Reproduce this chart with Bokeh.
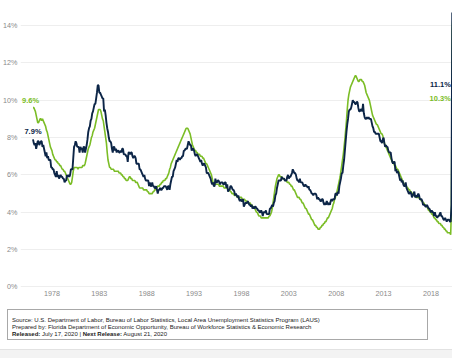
from bokeh.plotting import figure
from bokeh.models import Range1d, FixedTicker, Div, CustomJSTickFormatter, Label
from bokeh.layouts import column
from bokeh.embed import file_html
from bokeh.resources import INLINE

start_year = 1976

# United States, monthly unemployment rate (%), Jan 1976 - Jun 2020
us_rate = [
    7.9, 7.7, 7.6, 7.7, 7.4, 7.6, 7.8, 7.8, 7.6, 7.7, 7.8, 7.8,   # 1976
    7.5, 7.6, 7.4, 7.2, 7.0, 7.2, 6.9, 7.0, 6.8, 6.8, 6.8, 6.4,   # 1977
    6.4, 6.3, 6.3, 6.1, 6.0, 5.9, 6.2, 5.9, 6.0, 5.8, 5.9, 6.0,   # 1978
    5.9, 5.9, 5.8, 5.8, 5.6, 5.7, 5.7, 6.0, 5.9, 6.0, 5.9, 6.0,   # 1979
    6.3, 6.3, 6.3, 6.9, 7.5, 7.6, 7.8, 7.7, 7.5, 7.5, 7.5, 7.2,   # 1980
    7.5, 7.4, 7.4, 7.2, 7.5, 7.5, 7.2, 7.4, 7.6, 7.9, 8.3, 8.5,   # 1981
    8.6, 8.9, 9.0, 9.3, 9.4, 9.6, 9.8, 9.8, 10.1, 10.4, 10.8, 10.8,  # 1982
    10.4, 10.4, 10.3, 10.2, 10.1, 10.1, 9.4, 9.5, 9.2, 8.8, 8.5, 8.3,  # 1983
    8.0, 7.8, 7.8, 7.7, 7.4, 7.2, 7.5, 7.5, 7.3, 7.4, 7.2, 7.3,   # 1984
    7.3, 7.2, 7.2, 7.3, 7.2, 7.4, 7.4, 7.1, 7.1, 7.1, 7.0, 7.0,   # 1985
    6.7, 7.2, 7.2, 7.1, 7.2, 7.2, 7.0, 6.9, 7.0, 7.0, 6.9, 6.6,   # 1986
    6.6, 6.6, 6.6, 6.3, 6.3, 6.2, 6.1, 6.0, 5.9, 6.0, 5.8, 5.7,   # 1987
    5.7, 5.7, 5.7, 5.4, 5.6, 5.4, 5.4, 5.6, 5.4, 5.4, 5.3, 5.3,   # 1988
    5.4, 5.2, 5.0, 5.2, 5.2, 5.3, 5.2, 5.2, 5.3, 5.3, 5.4, 5.4,   # 1989
    5.4, 5.3, 5.2, 5.4, 5.4, 5.2, 5.5, 5.7, 5.9, 5.9, 6.2, 6.3,   # 1990
    6.4, 6.6, 6.8, 6.7, 6.9, 6.9, 6.8, 6.9, 6.9, 7.0, 7.0, 7.3,   # 1991
    7.3, 7.4, 7.4, 7.4, 7.6, 7.8, 7.7, 7.6, 7.6, 7.3, 7.4, 7.4,   # 1992
    7.3, 7.1, 7.0, 7.1, 7.1, 7.0, 6.9, 6.8, 6.7, 6.8, 6.6, 6.5,   # 1993
    6.6, 6.6, 6.5, 6.4, 6.1, 6.1, 6.1, 6.0, 5.9, 5.8, 5.6, 5.5,   # 1994
    5.6, 5.4, 5.4, 5.8, 5.6, 5.6, 5.7, 5.7, 5.6, 5.5, 5.6, 5.6,   # 1995
    5.6, 5.5, 5.5, 5.6, 5.6, 5.3, 5.5, 5.1, 5.2, 5.2, 5.4, 5.4,   # 1996
    5.3, 5.2, 5.2, 5.1, 4.9, 5.0, 4.9, 4.8, 4.9, 4.7, 4.6, 4.7,   # 1997
    4.6, 4.6, 4.7, 4.3, 4.4, 4.5, 4.5, 4.5, 4.6, 4.5, 4.4, 4.4,   # 1998
    4.3, 4.4, 4.2, 4.3, 4.2, 4.3, 4.3, 4.2, 4.2, 4.1, 4.1, 4.0,   # 1999
    4.0, 4.1, 4.0, 3.8, 4.0, 4.0, 4.0, 4.1, 3.9, 3.9, 3.9, 3.9,   # 2000
    4.2, 4.2, 4.3, 4.4, 4.3, 4.5, 4.6, 4.9, 5.0, 5.3, 5.5, 5.7,   # 2001
    5.7, 5.7, 5.7, 5.9, 5.8, 5.8, 5.8, 5.7, 5.7, 5.7, 5.9, 6.0,   # 2002
    5.8, 5.9, 5.9, 6.0, 6.1, 6.3, 6.2, 6.1, 6.1, 6.0, 5.8, 5.7,   # 2003
    5.7, 5.6, 5.8, 5.6, 5.6, 5.6, 5.5, 5.4, 5.4, 5.5, 5.4, 5.4,   # 2004
    5.3, 5.4, 5.2, 5.2, 5.1, 5.0, 5.0, 4.9, 5.0, 5.0, 5.0, 4.9,   # 2005
    4.7, 4.8, 4.7, 4.7, 4.6, 4.6, 4.7, 4.7, 4.5, 4.4, 4.5, 4.4,   # 2006
    4.6, 4.5, 4.4, 4.5, 4.4, 4.6, 4.7, 4.6, 4.7, 4.7, 4.7, 5.0,   # 2007
    5.0, 4.9, 5.1, 5.0, 5.4, 5.6, 5.8, 6.1, 6.1, 6.5, 6.8, 7.3,   # 2008
    7.8, 8.3, 8.7, 9.0, 9.4, 9.5, 9.5, 9.6, 9.8, 10.0, 9.9, 9.9,  # 2009
    9.8, 9.8, 9.9, 9.9, 9.6, 9.4, 9.4, 9.5, 9.5, 9.4, 9.8, 9.3,   # 2010
    9.1, 9.0, 9.0, 9.1, 9.0, 9.1, 9.0, 9.0, 9.0, 8.8, 8.6, 8.5,   # 2011
    8.3, 8.3, 8.2, 8.2, 8.2, 8.2, 8.2, 8.0, 7.8, 7.8, 7.7, 7.9,   # 2012
    8.0, 7.7, 7.5, 7.6, 7.5, 7.5, 7.3, 7.2, 7.2, 7.2, 6.9, 6.7,   # 2013
    6.6, 6.7, 6.7, 6.2, 6.3, 6.1, 6.2, 6.1, 5.9, 5.7, 5.8, 5.6,   # 2014
    5.7, 5.5, 5.4, 5.4, 5.6, 5.3, 5.2, 5.1, 5.0, 5.0, 5.1, 5.0,   # 2015
    4.8, 4.9, 5.0, 5.1, 4.8, 4.9, 4.8, 4.9, 5.0, 4.9, 4.7, 4.7,   # 2016
    4.7, 4.6, 4.4, 4.4, 4.4, 4.3, 4.3, 4.4, 4.3, 4.2, 4.2, 4.1,   # 2017
    4.0, 4.1, 4.0, 4.0, 3.8, 4.0, 3.8, 3.8, 3.7, 3.8, 3.8, 3.9,   # 2018
    4.0, 3.8, 3.8, 3.7, 3.6, 3.6, 3.7, 3.6, 3.5, 3.6, 3.6, 3.6,   # 2019
    3.5, 3.5, 4.4, 14.7, 13.3, 11.1,                               # 2020
]

# Florida, monthly unemployment rate (%), Jan 1976 - Jun 2020
fl_rate = [
    9.6, 9.6, 9.5, 9.4, 9.2, 9.0, 8.8, 8.8, 8.9, 9.0, 9.0, 8.9,   # 1976
    9.0, 8.9, 8.8, 8.7, 8.6, 8.4, 8.3, 8.1, 7.9, 7.7, 7.5, 7.4,   # 1977
    7.3, 7.1, 7.0, 6.9, 6.8, 6.8, 6.7, 6.7, 6.6, 6.6, 6.5, 6.5,   # 1978
    6.4, 6.3, 6.3, 6.2, 6.2, 6.1, 6.0, 5.9, 5.8, 5.7, 5.6, 5.5,   # 1979
    5.5, 5.6, 5.9, 6.2, 6.4, 6.4, 6.4, 6.4, 6.4, 6.3, 6.4, 6.4,   # 1980
    6.4, 6.4, 6.4, 6.5, 6.5, 6.5, 6.6, 6.8, 7.0, 7.2, 7.4, 7.5,   # 1981
    7.6, 7.8, 8.0, 8.1, 8.3, 8.4, 8.5, 8.7, 8.9, 9.1, 9.3, 9.5,   # 1982
    9.5, 9.5, 9.4, 9.2, 9.0, 8.9, 8.6, 8.3, 8.0, 7.7, 7.2, 6.8,   # 1983
    6.6, 6.4, 6.4, 6.3, 6.3, 6.3, 6.3, 6.2, 6.2, 6.2, 6.2, 6.2,   # 1984
    6.2, 6.1, 6.1, 6.1, 6.0, 6.0, 5.9, 5.9, 5.8, 5.8, 5.7, 5.7,   # 1985
    5.7, 5.8, 5.9, 5.9, 5.8, 5.8, 5.7, 5.7, 5.7, 5.7, 5.6, 5.6,   # 1986
    5.6, 5.5, 5.4, 5.3, 5.3, 5.3, 5.3, 5.3, 5.2, 5.2, 5.2, 5.2,   # 1987
    5.2, 5.1, 5.1, 5.0, 5.0, 5.0, 5.0, 5.0, 5.1, 5.1, 5.2, 5.2,   # 1988
    5.3, 5.3, 5.4, 5.4, 5.4, 5.5, 5.5, 5.6, 5.6, 5.7, 5.7, 5.7,   # 1989
    5.8, 5.8, 5.9, 6.0, 6.1, 6.3, 6.4, 6.6, 6.7, 6.8, 6.9, 7.0,   # 1990
    7.1, 7.2, 7.3, 7.4, 7.5, 7.6, 7.7, 7.8, 7.9, 8.0, 8.1, 8.2,   # 1991
    8.3, 8.4, 8.5, 8.5, 8.5, 8.4, 8.3, 8.2, 8.0, 7.8, 7.6, 7.5,   # 1992
    7.4, 7.3, 7.3, 7.2, 7.2, 7.1, 7.1, 7.1, 7.0, 7.0, 7.0, 6.9,   # 1993
    6.9, 6.8, 6.7, 6.6, 6.6, 6.5, 6.4, 6.3, 6.2, 6.1, 6.0, 5.8,   # 1994
    5.6, 5.5, 5.5, 5.5, 5.5, 5.5, 5.5, 5.5, 5.4, 5.4, 5.4, 5.4,   # 1995
    5.4, 5.4, 5.3, 5.3, 5.3, 5.3, 5.3, 5.2, 5.2, 5.2, 5.1, 5.1,   # 1996
    5.0, 5.0, 5.0, 4.9, 4.9, 4.9, 4.9, 4.8, 4.8, 4.8, 4.8, 4.8,   # 1997
    4.8, 4.7, 4.7, 4.7, 4.7, 4.6, 4.6, 4.6, 4.5, 4.5, 4.5, 4.5,   # 1998
    4.4, 4.4, 4.3, 4.3, 4.2, 4.2, 4.1, 4.0, 4.0, 3.9, 3.8, 3.8,   # 1999
    3.8, 3.7, 3.7, 3.7, 3.7, 3.7, 3.7, 3.7, 3.7, 3.7, 3.7, 3.8,   # 2000
    3.8, 3.9, 4.0, 4.2, 4.5, 4.8, 5.1, 5.4, 5.6, 5.8, 5.9, 6.0,   # 2001
    6.0, 5.9, 5.9, 5.9, 5.8, 5.8, 5.8, 5.7, 5.7, 5.7, 5.6, 5.6,   # 2002
    5.6, 5.5, 5.5, 5.4, 5.4, 5.3, 5.2, 5.2, 5.1, 5.0, 4.9, 4.8,   # 2003
    4.8, 4.8, 4.7, 4.7, 4.6, 4.5, 4.5, 4.4, 4.3, 4.2, 4.2, 4.1,   # 2004
    4.0, 3.9, 3.9, 3.8, 3.7, 3.6, 3.6, 3.5, 3.4, 3.3, 3.3, 3.2,   # 2005
    3.2, 3.1, 3.1, 3.1, 3.2, 3.2, 3.3, 3.3, 3.4, 3.4, 3.5, 3.5,   # 2006
    3.6, 3.7, 3.7, 3.8, 3.9, 4.0, 4.1, 4.2, 4.4, 4.5, 4.7, 4.8,   # 2007
    5.0, 5.1, 5.3, 5.5, 5.7, 5.9, 6.2, 6.5, 6.8, 7.1, 7.5, 7.9,   # 2008
    8.4, 8.9, 9.5, 10.0, 10.3, 10.5, 10.7, 10.8, 10.9, 11.0, 11.1, 11.2,  # 2009
    11.3, 11.3, 11.2, 11.1, 11.0, 11.0, 11.1, 11.1, 11.1, 11.0, 11.0, 10.9,  # 2010
    10.8, 10.6, 10.4, 10.3, 10.2, 10.1, 10.0, 9.8, 9.6, 9.4, 9.2, 9.1,  # 2011
    9.0, 8.9, 8.8, 8.7, 8.7, 8.6, 8.5, 8.4, 8.3, 8.2, 8.2, 8.1,   # 2012
    7.9, 7.7, 7.6, 7.5, 7.4, 7.3, 7.2, 7.1, 7.0, 6.9, 6.8, 6.7,   # 2013
    6.7, 6.6, 6.5, 6.5, 6.4, 6.3, 6.3, 6.2, 6.1, 6.0, 5.9, 5.8,   # 2014
    5.7, 5.6, 5.5, 5.5, 5.4, 5.4, 5.3, 5.3, 5.2, 5.2, 5.1, 5.1,   # 2015
    5.0, 5.0, 4.9, 4.9, 4.9, 4.8, 4.8, 4.8, 4.8, 4.8, 4.7, 4.7,   # 2016
    4.6, 4.6, 4.5, 4.5, 4.4, 4.4, 4.3, 4.3, 4.2, 4.1, 4.1, 4.0,   # 2017
    4.0, 3.9, 3.9, 3.8, 3.7, 3.7, 3.6, 3.6, 3.5, 3.5, 3.4, 3.4,   # 2018
    3.4, 3.3, 3.3, 3.2, 3.2, 3.1, 3.1, 3.0, 3.0, 2.9, 2.9, 2.9,   # 2019
    2.9, 2.8, 4.3, 13.8, 14.5, 10.3,                               # 2020
]

year_ticks = [1978, 1983, 1988, 1993, 1998, 2003, 2008, 2013, 2018]
pct_ticks = [0, 2, 4, 6, 8, 10, 12, 14]

us_color = "#0c2547"
fl_color = "#7bbd26"
font = "Liberation Sans"

months_us = [start_year + i / 12 for i in range(len(us_rate))]
months_fl = [start_year + i / 12 for i in range(len(fl_rate))]

p = figure(width=452, height=305, output_backend="svg", toolbar_location=None,
           x_range=Range1d(1974.681, 2020.275), y_range=Range1d(-0.027, 15.337),
           min_border_left=20, min_border_right=0, min_border_top=0, min_border_bottom=18)
p.outline_line_color = None
p.background_fill_color = "white"
p.border_fill_color = "white"

p.xgrid.grid_line_color = None
p.ygrid.grid_line_color = "#eeeeee"
p.ygrid.grid_line_width = 1

p.xaxis.ticker = FixedTicker(ticks=year_ticks)
p.yaxis.ticker = FixedTicker(ticks=pct_ticks)
p.yaxis.formatter = CustomJSTickFormatter(code="return tick + '%';")
for ax in (p.xaxis, p.yaxis):
    ax.axis_line_color = None
    ax.major_tick_line_color = None
    ax.minor_tick_line_color = None
    ax.major_tick_out = 0
    ax.major_tick_in = 0
    ax.minor_tick_out = 0
    ax.major_label_text_font = font
    ax.major_label_text_font_size = "7.2px"
    ax.major_label_text_color = "#8a8a8a"
p.xaxis.major_label_standoff = 3
p.yaxis.major_label_standoff = 3

p.line(months_fl, fl_rate, line_color=fl_color, line_width=1.6)
p.line(months_us, us_rate, line_color=us_color, line_width=1.9)

label_style = dict(text_font=font, text_font_style="bold", text_font_size="7.5px")
# start labels (kept inside the plot frame)
p.add_layout(Label(x=months_fl[0], y=fl_rate[0], text=f"{fl_rate[0]}%", x_offset=-11, y_offset=3,
                   text_align="left", text_baseline="bottom", text_color=fl_color, **label_style))
p.add_layout(Label(x=months_us[0], y=us_rate[0], text=f"{us_rate[0]}%", x_offset=0, y_offset=3,
                   text_align="center", text_baseline="bottom", text_color=us_color, **label_style))
# end labels
p.add_layout(Label(x=months_us[-1], y=us_rate[-1], text=f"{us_rate[-1]}%", x_offset=-3, y_offset=-5,
                   text_align="right", text_baseline="middle", text_color=us_color, **label_style))
p.add_layout(Label(x=months_fl[-1], y=fl_rate[-1], text=f"{fl_rate[-1]}%", x_offset=-3, y_offset=-3.5,
                   text_align="right", text_baseline="middle", text_color=fl_color, **label_style))

footer_html = (
    "<div style=\"font-family:'Liberation Sans',Arial,sans-serif;font-size:6px;line-height:7px;"
    "color:#222;border:1px solid #a8a8a8;box-sizing:border-box;width:421px;height:31px;"
    "padding:7px 0 0 4px;white-space:nowrap;\">"
    "Source: U.S. Department of Labor, Bureau of Labor Statistics, Local Area Unemployment Statistics Program (LAUS)<br>"
    "Prepared by: Florida Department of Economic Opportunity, Bureau of Workforce Statistics &amp; Economic Research<br>"
    "<b>Released:</b> July 17, 2020 | <b>Next Release:</b> August 21, 2020"
    "</div>"
    "<div style=\"margin-top:9px;margin-left:-7px;width:452px;height:9px;background:#f3f3f3;"
    "border-top:1px solid #e2e2e2;\"></div>"
)
footer = Div(text=footer_html, width=445, height=50, margin=(4, 0, 0, 7))

layout = column(p, footer, spacing=0)
open("out.html", "w").write(file_html(layout, INLINE))
